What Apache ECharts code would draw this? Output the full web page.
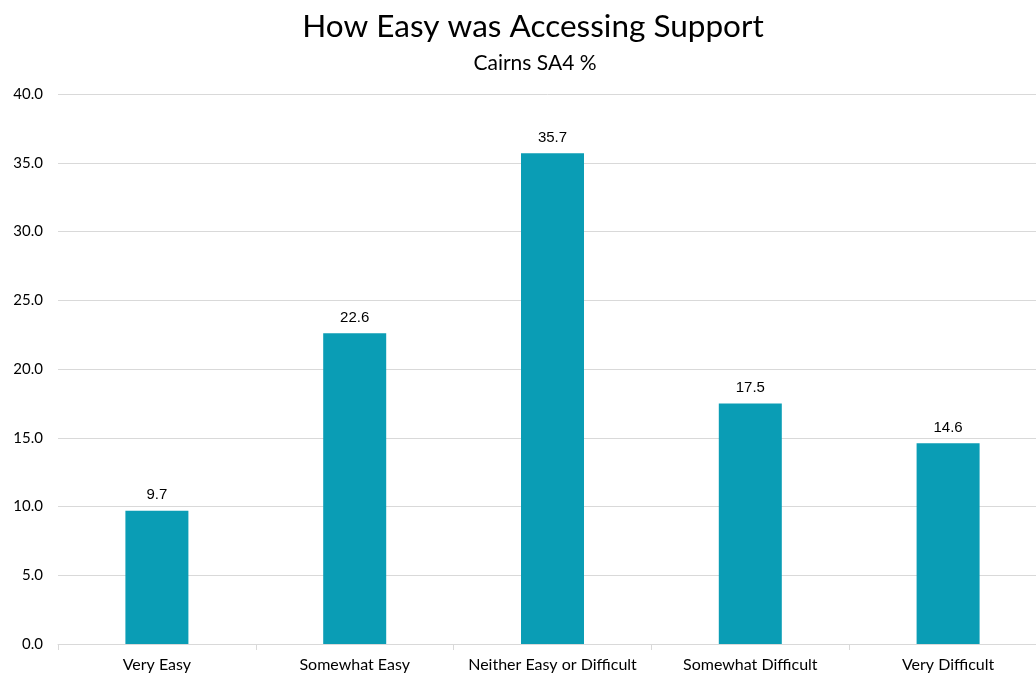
<!DOCTYPE html>
<html><head><meta charset="utf-8">
<script src="https://cdn.jsdelivr.net/npm/echarts@6/dist/echarts.min.js"></script>
<style>html,body{margin:0;padding:0;background:#fff}#c{width:1036px;height:675px}</style>
</head><body><div id="c"></div>
<script>
const categories = ['Very Easy','Somewhat Easy','Neither Easy or Difficult','Somewhat Difficult','Very Difficult'];
const values = [9.7, 22.6, 35.7, 17.5, 14.6];
const titleText = 'How Easy was Accessing Support';
const subtitleText = 'Cairns SA4 %';

const chart = echarts.init(document.getElementById('c'));
chart.setOption({
  animation: false,
  backgroundColor: '#fff',
  title: [
    {text: titleText, left: 528, top: 6, textAlign: 'center',
     textStyle: {fontFamily: 'Lato, "Open Sans", sans-serif', fontSize: 31.5, fontWeight: 'normal', color: '#000'}},
    {text: subtitleText, left: 530, top: 48, textAlign: 'center',
     textStyle: {fontFamily: 'Lato, "Open Sans", sans-serif', fontSize: 21, fontWeight: 'normal', color: '#000'}}
  ],
  grid: {left: 58, top: 94, width: 989, height: 550, containLabel: false, outerBoundsMode: 'none'},
  xAxis: {
    type: 'category', data: categories,
    axisLine: {lineStyle: {color: '#d9d9d9'}},
    axisTick: {show: true, length: 6, lineStyle: {color: '#d9d9d9'}},
    axisLabel: {interval: 0, hideOverlap: false, color: '#000', fontFamily: 'Lato, "Open Sans", sans-serif', fontSize: 16, margin: 13}
  },
  yAxis: {
    type: 'value', min: 0, max: 40, interval: 5,
    axisLine: {show: false}, axisTick: {show: false},
    splitLine: {lineStyle: {color: '#d9d9d9'}},
    axisLabel: {formatter: v => v.toFixed(1), color: '#000', fontFamily: 'Lato, "Open Sans", sans-serif', fontSize: 15, margin: 15}
  },
  series: [{
    type: 'bar', data: values, barWidth: 63,
    itemStyle: {color: '#0A9DB5'},
    label: {show: true, position: 'top', distance: 8, formatter: p => p.value.toFixed(1),
      color: '#000', fontFamily: '"Liberation Sans", Arial, sans-serif', fontSize: 15}
  }]
});
</script></body></html>
